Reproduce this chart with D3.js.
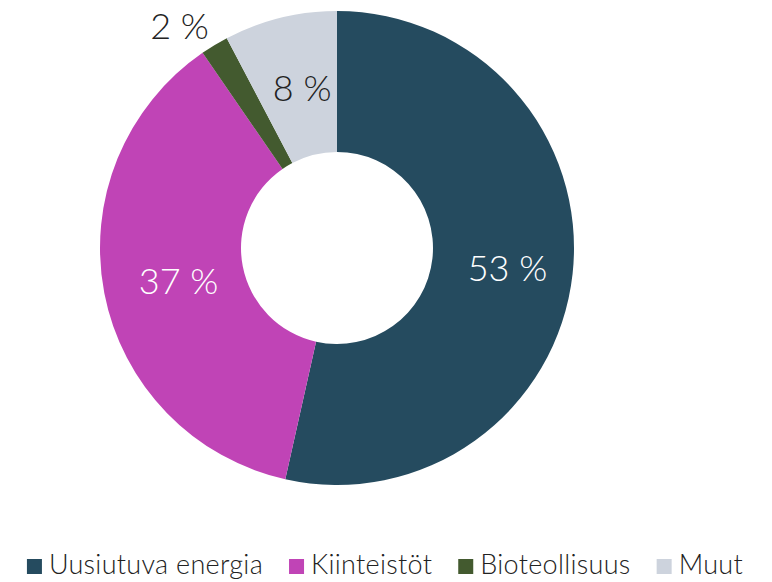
<!DOCTYPE html>
<html>
<head>
<meta charset="utf-8">
<script src="https://cdn.jsdelivr.net/npm/d3@7"></script>
<style>
  body { margin: 0; background: #fff; }
  text { font-family: "Lato", "Open Sans", sans-serif; font-weight: 300; }
</style>
</head>
<body>
<div id="chart"></div>
<script>
let categories = ["Uusiutuva energia", "Kiinteistöt", "Bioteollisuus", "Muut"];
let values = [53.5, 36.9, 1.9, 7.7];
let labels = ["53 %", "37 %", "2 %", "8 %"];
let colors = ["#254b5f", "#c044b6", "#435a2f", "#cdd3dd"];
let labelColors = ["#ffffff", "#ffffff", "#222222", "#222222"];
let outsideLabel = [false, false, true, false];

let w = 772, h = 582;
let cx = 337, cy = 248;
let outerR = 237, innerR = 96;

let svg = d3.select("#chart")
    .append("svg")
    .attr("width", w)
    .attr("height", h);

let pie = d3.pie().sort(null).value(function (d) { return d; });
let arcs = pie(values);

let arc = d3.arc().innerRadius(innerR).outerRadius(outerR);
let outArc = d3.arc().innerRadius(262).outerRadius(262);

let g = svg.append("g")
    .attr("transform", "translate(" + cx + "," + cy + ")");

g.selectAll("path")
    .data(arcs)
    .enter()
    .append("path")
    .attr("d", arc)
    .attr("fill", function (d, i) { return colors[i]; });

g.selectAll("text.lbl")
    .data(arcs)
    .enter()
    .append("text")
    .attr("class", "lbl")
    .attr("transform", function (d, i) {
        let c = outsideLabel[i] ? outArc.centroid(d) : arc.centroid(d);
        if (outsideLabel[i]) {
            // pulled up-left, clear of the ring
            c = [c[0] - 22, c[1] + 3];
        } else {
            c = [c[0] + 5, c[1] + 2];
        }
        return "translate(" + c[0] + "," + c[1] + ")";
    })
    .attr("text-anchor", "middle")
    .attr("dy", "0.35em")
    .style("font-size", "36px")
    .attr("fill", function (d, i) { return labelColors[i]; })
    .text(function (d, i) { return labels[i]; });

// legend
let legend = svg.append("g");
let items = legend.selectAll("g")
    .data(categories)
    .enter()
    .append("g");

items.append("rect")
    .attr("width", 15)
    .attr("height", 15)
    .attr("y", -15)
    .attr("fill", function (d, i) { return colors[i]; });

items.append("text")
    .attr("x", 22)
    .style("font-size", "27px")
    .style("letter-spacing", "0.3px")
    .attr("fill", "#222")
    .text(function (d) { return d; });

let x = 0;
items.each(function () {
    let t = d3.select(this).select("text").node().getComputedTextLength();
    d3.select(this).attr("transform", "translate(" + x + ",0)");
    x += 22 + t + 26;
});
let total = x - 26;
legend.attr("transform", "translate(" + ((w - total) / 2 - 1) + ",574)");
</script>
</body>
</html>
